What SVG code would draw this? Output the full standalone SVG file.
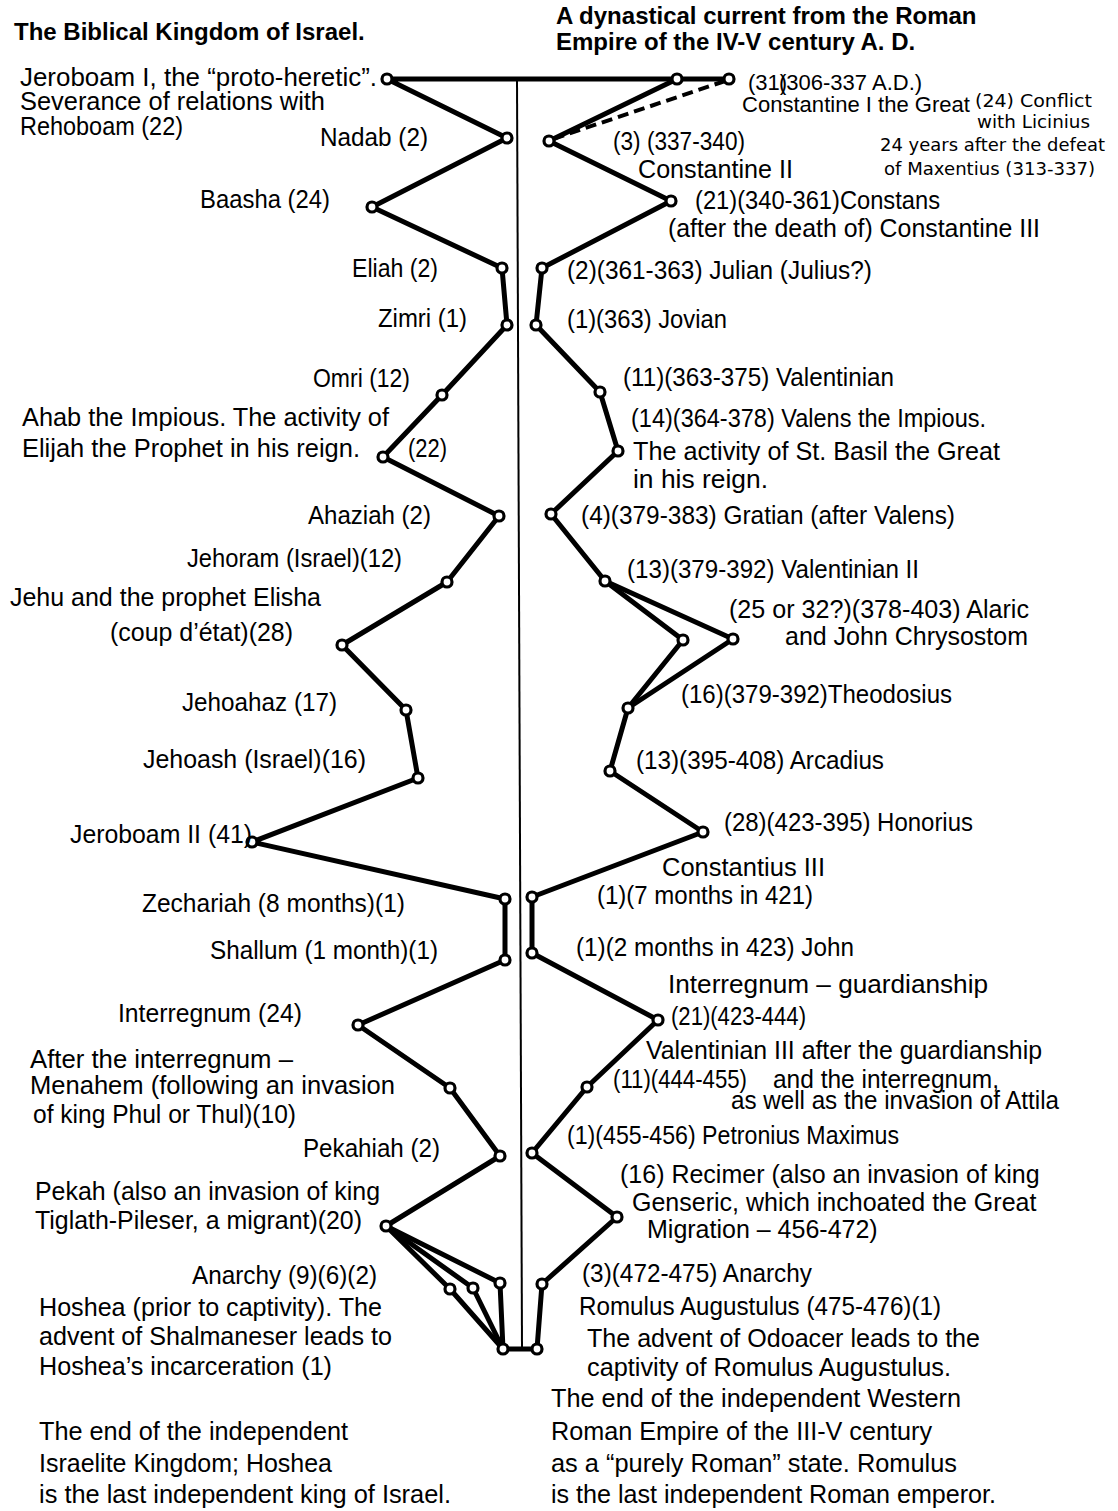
<svg xmlns="http://www.w3.org/2000/svg" width="1118" height="1511" viewBox="0 0 1118 1511">
<style>
text{font-family:"Liberation Sans",Arial,sans-serif;font-size:25px;fill:#000}
.e{text-anchor:end}
.h{font-weight:bold;font-size:24px}
.m{font-size:22px}
.s{font-family:"DejaVu Sans",sans-serif;font-size:18.5px}
.c{fill:none;stroke:#000;stroke-width:5;stroke-linejoin:round;stroke-linecap:round}
.d{fill:none;stroke:#000;stroke-width:4;stroke-dasharray:11 6}
.axis{stroke:#000;stroke-width:2}
circle{fill:#fff;stroke:#000;stroke-width:3.2}
</style>
<rect width="1118" height="1511" fill="#fff"/>
<g id="titles">
<text class="h" x="14" y="40">The Biblical Kingdom of Israel.</text>
<text class="h" x="556" y="24">A dynastical current from the Roman</text>
<text class="h" x="556" y="50">Empire of the IV-V century A. D.</text>
</g>
<g id="connectors">
<line class="axis" x1="517" y1="79" x2="522" y2="1349"/>
<polyline class="c" points="729,79 387,79 507,138 372,207 502,268 507,325 442,395 383,457 499,516 447,582 342,645 406,710 418,778 252,842 505,899 505,960 358,1025 450,1088 500,1156 386,1226 450,1289 503,1349 537,1349"/>
<polyline class="c" points="386,1226 473,1288 503,1349"/>
<polyline class="c" points="386,1226 500,1283 503,1349"/>
<polyline class="c" points="677,79 549,141 671,201 542,268 536,325 600,392 618,451 551,514 605,581 683,640 628,708 610,771 703,832 532,897 532,953 658,1020 587,1087 532,1153 617,1217 542,1284 537,1349"/>
<polyline class="c" points="605,581 733,639 628,708"/>
<line class="d" x1="725" y1="81" x2="553" y2="139"/>
</g>
<g id="n-jeroboam1"><circle cx="387" cy="79" r="5"/>
<text x="20" y="86" textLength="357" lengthAdjust="spacingAndGlyphs">Jeroboam I, the “proto-heretic”.</text>
<text x="20" y="110" textLength="305" lengthAdjust="spacingAndGlyphs">Severance of relations with</text>
<text x="20" y="135" textLength="163" lengthAdjust="spacingAndGlyphs">Rehoboam (22)</text></g>
<g id="n-nadab"><circle cx="507" cy="138" r="5"/><text class="e" x="428" y="146" textLength="108" lengthAdjust="spacingAndGlyphs">Nadab (2)</text></g>
<g id="n-baasha"><circle cx="372" cy="207" r="5"/><text class="e" x="330" y="208" textLength="130" lengthAdjust="spacingAndGlyphs">Baasha (24)</text></g>
<g id="n-eliah"><circle cx="502" cy="268" r="5"/><text class="e" x="438" y="277" textLength="86" lengthAdjust="spacingAndGlyphs">Eliah (2)</text></g>
<g id="n-zimri"><circle cx="507" cy="325" r="5"/><text class="e" x="467" y="327" textLength="89" lengthAdjust="spacingAndGlyphs">Zimri (1)</text></g>
<g id="n-omri"><circle cx="442" cy="395" r="5"/><text class="e" x="410" y="387" textLength="97" lengthAdjust="spacingAndGlyphs">Omri (12)</text></g>
<g id="n-ahab"><circle cx="383" cy="457" r="5"/>
<text x="22" y="426" textLength="367" lengthAdjust="spacingAndGlyphs">Ahab the Impious. The activity of</text>
<text x="22" y="457" textLength="338" lengthAdjust="spacingAndGlyphs">Elijah the Prophet in his reign.</text>
<text x="408" y="457" textLength="39" lengthAdjust="spacingAndGlyphs">(22)</text></g>
<g id="n-ahaziah"><circle cx="499" cy="516" r="5"/><text class="e" x="431" y="524" textLength="123" lengthAdjust="spacingAndGlyphs">Ahaziah (2)</text></g>
<g id="n-jehoram"><circle cx="447" cy="582" r="5"/><text class="e" x="402" y="567" textLength="215" lengthAdjust="spacingAndGlyphs">Jehoram (Israel)(12)</text></g>
<g id="n-jehu"><circle cx="342" cy="645" r="5"/>
<text x="10" y="606" textLength="311" lengthAdjust="spacingAndGlyphs">Jehu and the prophet Elisha</text>
<text class="e" x="293" y="641" textLength="183" lengthAdjust="spacingAndGlyphs">(coup d’état)(28)</text></g>
<g id="n-jehoahaz"><circle cx="406" cy="710" r="5"/><text class="e" x="337" y="711" textLength="155" lengthAdjust="spacingAndGlyphs">Jehoahaz (17)</text></g>
<g id="n-jehoash"><circle cx="418" cy="778" r="5"/><text class="e" x="366" y="768" textLength="223" lengthAdjust="spacingAndGlyphs">Jehoash (Israel)(16)</text></g>
<g id="n-jeroboam2"><circle cx="252" cy="842" r="5"/><text class="e" x="252" y="843" textLength="182" lengthAdjust="spacingAndGlyphs">Jeroboam II (41)</text></g>
<g id="n-zechariah"><circle cx="505" cy="899" r="5"/><text class="e" x="405" y="912" textLength="263" lengthAdjust="spacingAndGlyphs">Zechariah (8 months)(1)</text></g>
<g id="n-shallum"><circle cx="505" cy="960" r="5"/><text class="e" x="438" y="959" textLength="228" lengthAdjust="spacingAndGlyphs">Shallum (1 month)(1)</text></g>
<g id="n-interregnum"><circle cx="358" cy="1025" r="5"/><text class="e" x="302" y="1022" textLength="184" lengthAdjust="spacingAndGlyphs">Interregnum (24)</text></g>
<g id="n-menahem"><circle cx="450" cy="1088" r="5"/>
<text x="30" y="1068" textLength="263" lengthAdjust="spacingAndGlyphs">After the interregnum –</text>
<text x="30" y="1094" textLength="365" lengthAdjust="spacingAndGlyphs">Menahem (following an invasion</text>
<text x="33" y="1123" textLength="263" lengthAdjust="spacingAndGlyphs">of king Phul or Thul)(10)</text></g>
<g id="n-pekahiah"><circle cx="500" cy="1156" r="5"/><text class="e" x="440" y="1157" textLength="137" lengthAdjust="spacingAndGlyphs">Pekahiah (2)</text></g>
<g id="n-pekah"><circle cx="386" cy="1226" r="5"/>
<text x="35" y="1200" textLength="345" lengthAdjust="spacingAndGlyphs">Pekah (also an invasion of king</text>
<text x="35" y="1229" textLength="327" lengthAdjust="spacingAndGlyphs">Tiglath-Pileser, a migrant)(20)</text></g>
<g id="n-anarchy"><circle cx="450" cy="1289" r="5"/><circle cx="473" cy="1288" r="5"/><circle cx="500" cy="1283" r="5"/>
<text class="e" x="377" y="1284" textLength="185" lengthAdjust="spacingAndGlyphs">Anarchy (9)(6)(2)</text></g>
<g id="n-hoshea"><circle cx="503" cy="1349" r="5"/>
<text x="39" y="1316" textLength="343" lengthAdjust="spacingAndGlyphs">Hoshea (prior to captivity). The</text>
<text x="39" y="1345" textLength="353" lengthAdjust="spacingAndGlyphs">advent of Shalmaneser leads to</text>
<text x="39" y="1375" textLength="293" lengthAdjust="spacingAndGlyphs">Hoshea’s incarceration (1)</text>
<text x="39" y="1440" textLength="309" lengthAdjust="spacingAndGlyphs">The end of the independent</text>
<text x="39" y="1472" textLength="293" lengthAdjust="spacingAndGlyphs">Israelite Kingdom; Hoshea</text>
<text x="39" y="1503" textLength="412" lengthAdjust="spacingAndGlyphs">is the last independent king of Israel.</text></g>
<g id="n-constantine1"><circle cx="677" cy="79" r="5"/><circle cx="729" cy="79" r="5"/>
<text class="m" x="748" y="90">(31)</text>
<text class="m" x="779" y="90">(306-337 A.D.)</text>
<text class="m" x="742" y="112" textLength="228" lengthAdjust="spacingAndGlyphs">Constantine I the Great</text>
<text class="s" x="975" y="107" textLength="117" lengthAdjust="spacingAndGlyphs">(24) Conflict</text>
<text class="s" x="977" y="128" textLength="113" lengthAdjust="spacingAndGlyphs">with Licinius</text>
<text class="s" x="880" y="151" textLength="225" lengthAdjust="spacingAndGlyphs">24 years after the defeat</text>
<text class="s" x="884" y="175" textLength="211" lengthAdjust="spacingAndGlyphs">of Maxentius (313-337)</text></g>
<g id="n-constantine2"><circle cx="549" cy="141" r="5"/>
<text x="613" y="150" textLength="132" lengthAdjust="spacingAndGlyphs">(3) (337-340)</text>
<text x="638" y="178" textLength="155" lengthAdjust="spacingAndGlyphs">Constantine II</text></g>
<g id="n-constans"><circle cx="671" cy="201" r="5"/>
<text x="695" y="209" textLength="245" lengthAdjust="spacingAndGlyphs">(21)(340-361)Constans</text>
<text x="668" y="237" textLength="372" lengthAdjust="spacingAndGlyphs">(after the death of) Constantine III</text></g>
<g id="n-julian"><circle cx="542" cy="268" r="5"/><text x="567" y="279" textLength="305" lengthAdjust="spacingAndGlyphs">(2)(361-363) Julian (Julius?)</text></g>
<g id="n-jovian"><circle cx="536" cy="325" r="5"/><text x="567" y="328" textLength="160" lengthAdjust="spacingAndGlyphs">(1)(363) Jovian</text></g>
<g id="n-valentinian"><circle cx="600" cy="392" r="5"/><text x="623" y="386" textLength="271" lengthAdjust="spacingAndGlyphs">(11)(363-375) Valentinian</text></g>
<g id="n-valens"><circle cx="618" cy="451" r="5"/>
<text x="631" y="427" textLength="355" lengthAdjust="spacingAndGlyphs">(14)(364-378) Valens the Impious.</text>
<text x="633" y="460" textLength="367" lengthAdjust="spacingAndGlyphs">The activity of St. Basil the Great</text>
<text x="633" y="488" textLength="135" lengthAdjust="spacingAndGlyphs">in his reign.</text></g>
<g id="n-gratian"><circle cx="551" cy="514" r="5"/><text x="581" y="524" textLength="374" lengthAdjust="spacingAndGlyphs">(4)(379-383) Gratian (after Valens)</text></g>
<g id="n-valentinian2"><circle cx="605" cy="581" r="5"/><text x="627" y="578" textLength="292" lengthAdjust="spacingAndGlyphs">(13)(379-392) Valentinian II</text></g>
<g id="n-alaric"><circle cx="683" cy="640" r="5"/><circle cx="733" cy="639" r="5"/>
<text x="729" y="618" textLength="300" lengthAdjust="spacingAndGlyphs">(25 or 32?)(378-403) Alaric</text>
<text x="785" y="645" textLength="243" lengthAdjust="spacingAndGlyphs">and John Chrysostom</text></g>
<g id="n-theodosius"><circle cx="628" cy="708" r="5"/><text x="681" y="703" textLength="271" lengthAdjust="spacingAndGlyphs">(16)(379-392)Theodosius</text></g>
<g id="n-arcadius"><circle cx="610" cy="771" r="5"/><text x="636" y="769" textLength="248" lengthAdjust="spacingAndGlyphs">(13)(395-408) Arcadius</text></g>
<g id="n-honorius"><circle cx="703" cy="832" r="5"/><text x="724" y="831" textLength="249" lengthAdjust="spacingAndGlyphs">(28)(423-395) Honorius</text></g>
<g id="n-constantius3"><circle cx="532" cy="897" r="5"/>
<text x="662" y="876" textLength="163" lengthAdjust="spacingAndGlyphs">Constantius III</text>
<text x="597" y="904" textLength="216" lengthAdjust="spacingAndGlyphs">(1)(7 months in 421)</text></g>
<g id="n-john"><circle cx="532" cy="953" r="5"/><text x="576" y="956" textLength="278" lengthAdjust="spacingAndGlyphs">(1)(2 months in 423) John</text></g>
<g id="n-guardianship"><circle cx="658" cy="1020" r="5"/>
<text x="668" y="993" textLength="320" lengthAdjust="spacingAndGlyphs">Interregnum – guardianship</text>
<text x="671" y="1025" textLength="135" lengthAdjust="spacingAndGlyphs">(21)(423-444)</text></g>
<g id="n-valentinian3"><circle cx="587" cy="1087" r="5"/>
<text x="646" y="1059" textLength="396" lengthAdjust="spacingAndGlyphs">Valentinian III after the guardianship</text>
<text x="613" y="1088" textLength="134" lengthAdjust="spacingAndGlyphs">(11)(444-455)</text>
<text x="773" y="1088" textLength="226" lengthAdjust="spacingAndGlyphs">and the interregnum,</text>
<text x="731" y="1109" textLength="328" lengthAdjust="spacingAndGlyphs">as well as the invasion of Attila</text></g>
<g id="n-petronius"><circle cx="532" cy="1153" r="5"/><text x="567" y="1144" textLength="332" lengthAdjust="spacingAndGlyphs">(1)(455-456) Petronius Maximus</text></g>
<g id="n-recimer"><circle cx="617" cy="1217" r="5"/>
<text x="620" y="1183">(16) Recimer (also an invasion of king</text>
<text x="632" y="1211">Genseric, which inchoated the Great</text>
<text x="647" y="1238">Migration – 456-472)</text></g>
<g id="n-anarchyR"><circle cx="542" cy="1284" r="5"/><text x="582" y="1282" textLength="230" lengthAdjust="spacingAndGlyphs">(3)(472-475) Anarchy</text></g>
<g id="n-romulus"><circle cx="537" cy="1349" r="5"/>
<text x="579" y="1315" textLength="362" lengthAdjust="spacingAndGlyphs">Romulus Augustulus (475-476)(1)</text>
<text x="587" y="1347" textLength="393" lengthAdjust="spacingAndGlyphs">The advent of Odoacer leads to the</text>
<text x="587" y="1376" textLength="364" lengthAdjust="spacingAndGlyphs">captivity of Romulus Augustulus.</text>
<text x="551" y="1407" textLength="410" lengthAdjust="spacingAndGlyphs">The end of the independent Western</text>
<text x="551" y="1440" textLength="381" lengthAdjust="spacingAndGlyphs">Roman Empire of the III-V century</text>
<text x="551" y="1472" textLength="406" lengthAdjust="spacingAndGlyphs">as a “purely Roman” state. Romulus</text>
<text x="551" y="1503" textLength="445" lengthAdjust="spacingAndGlyphs">is the last independent Roman emperor.</text></g>
</svg>
